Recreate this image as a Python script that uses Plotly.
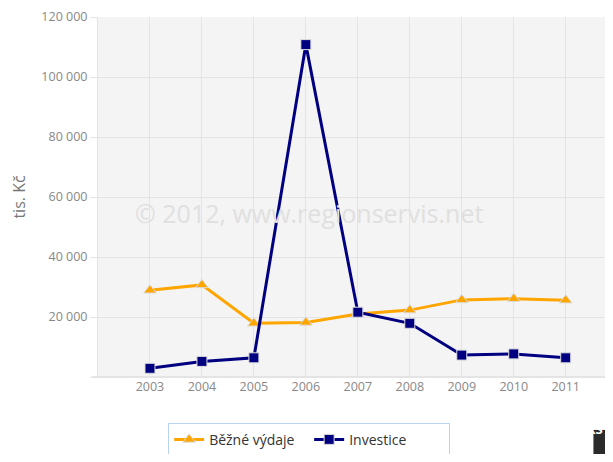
import plotly.graph_objects as go

years = [2003, 2004, 2005, 2006, 2007, 2008, 2009, 2010, 2011]
bezne_vydaje = [28900, 30700, 17900, 18200, 21000, 22300, 25700, 26100, 25600]
investice = [2900, 5200, 6400, 110800, 21600, 17900, 7300, 7700, 6400]

y_ticks = [0, 20000, 40000, 60000, 80000, 100000, 120000]
y_tick_labels = ["", "20 000", "40 000", "60 000", "80 000", "100 000", "120 000"]

FONT = "Open Sans, Noto Sans, sans-serif"
GRID = "#e4e4e4"
TEXT_GREY = "#888888"


def _series_trace(name, values, color, symbol, size):
    """Line with markers, styled like the old highcharts export."""
    return go.Scatter(
        x=years,
        y=values,
        name=name,
        mode="lines+markers",
        line=dict(color=color, width=3),
        marker=dict(
            symbol=symbol,
            size=size,
            color=color,
            line=dict(color="#dddddd", width=1),
        ),
    )


fig = go.Figure()
fig.add_trace(_series_trace("Běžné výdaje", bezne_vydaje, "#ffa500", "triangle-up", 11))
fig.add_trace(_series_trace("Investice", investice, "#000080", "square", 10))

# the page body has an 8px margin, keep the figure inside the window (no scrollbars)
fig.update_layout(
    width=605,
    height=446,
    margin=dict(l=90, r=0, t=9, b=77, autoexpand=False),
    paper_bgcolor="white",
    plot_bgcolor="#f4f4f4",
    font=dict(family=FONT, size=12, color=TEXT_GREY),
    showlegend=True,
    legend=dict(
        orientation="h",
        x=0.41,
        xanchor="center",
        yref="container",
        y=0.07,
        yanchor="top",
        bgcolor="white",
        bordercolor="#b8d4ee",
        borderwidth=1,
        entrywidth=95,
        font=dict(family=FONT, size=14, color="#333333"),
    ),
    xaxis=dict(
        range=[2002, 2011.91],
        tickvals=years,
        ticktext=[str(y) for y in years],
        showgrid=True,
        gridcolor=GRID,
        zeroline=False,
        showline=False,
        ticks="",
        tickfont=dict(size=12.5, color=TEXT_GREY),
        fixedrange=True,
    ),
    yaxis=dict(
        range=[0, 120000],
        tickvals=y_ticks,
        ticktext=y_tick_labels,
        showgrid=True,
        gridcolor=GRID,
        zeroline=False,
        showline=True,
        linecolor=GRID,
        ticks="outside",
        ticklen=7,
        tickcolor=GRID,
        tickfont=dict(size=12.5, color=TEXT_GREY),
        title=dict(text="tis. Kč", font=dict(size=16, color="#777777"), standoff=18),
        fixedrange=True,
    ),
)

# bottom axis line extending slightly left of plot
fig.add_shape(
    type="line", xref="paper", yref="paper",
    x0=-0.012, x1=1, y0=0, y1=0,
    line=dict(color=GRID, width=2),
)

# watermark
fig.add_annotation(
    text="© 2012, www.regionservis.net",
    xref="paper", yref="paper",
    x=0.41, y=0.455,
    showarrow=False,
    font=dict(family=FONT, size=25, color="#e0e0e0"),
)

# logo in the bottom right corner
fig.add_shape(
    type="rect", xref="paper", yref="paper",
    x0=0.962, x1=1.0, y0=-0.214, y1=-0.147,
    fillcolor="#2b2b2b", line=dict(width=0),
)
fig.add_annotation(
    text="<b>RS</b>",
    xref="paper", yref="paper",
    x=0.985, y=-0.175,
    showarrow=False,
    font=dict(family=FONT, size=13, color="white"),
)

fig.write_html("out.html")
